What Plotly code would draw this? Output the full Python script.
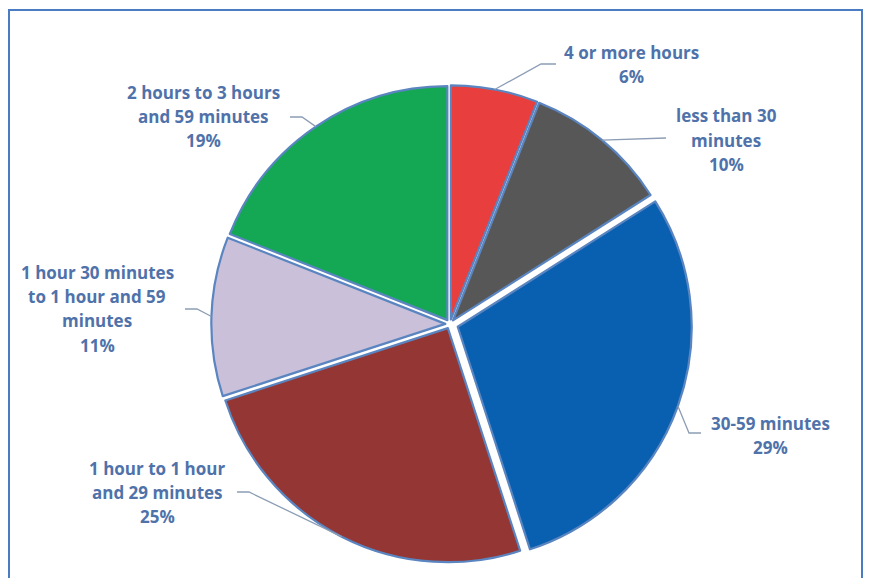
import math
import plotly.graph_objects as go

W, H = 882, 578
OFF = 8  # page body margin offset

# ---- data ----
categories = [
    "4 or more hours",
    "less than 30 minutes",
    "30-59 minutes",
    "1 hour to 1 hour and 29 minutes",
    "1 hour 30 minutes to 1 hour and 59 minutes",
    "2 hours to 3 hours and 59 minutes",
]
values = [6, 10, 29, 25, 11, 19]
label_lines = [
    ["4 or more hours"],
    ["less than 30", "minutes"],
    ["30-59 minutes"],
    ["1 hour to 1 hour", "and 29 minutes"],
    ["1 hour 30 minutes", "to 1 hour and 59", "minutes"],
    ["2 hours to 3 hours", "and 59 minutes"],
]
colors = ["#e83e3e", "#575757", "#0a60b0", "#943634", "#cac0da", "#14a854"]
pulls = [0.02, 0.02, 0.035, 0.02, 0.02, 0.02]

# ---- layout (pixels, page coordinates) ----
cx, cy, r = 450, 324, 234
text_color = "#4f72aa"
line_color = "#8c9db5"

label_pos = [(631, 52), (726, 116), (770, 423), (157, 468), (97, 272), (203, 92)]
leader_tail = [
    [(556, 64), (541, 64)],
    [(666, 138)],
    [(701, 433), (689, 433)],
    [(237, 492), (249, 492)],
    [(185, 309), (197, 309)],
    [(290, 117), (302, 117)],
]
line_gap = 24.4


def px(x):
    return (x - OFF) / W


def py(y):
    return 1 - (y - OFF) / H


maxpull = max(pulls)
half = r * (1 + maxpull)
fig = go.Figure()
fig.add_trace(go.Pie(
    labels=categories,
    values=values,
    sort=False,
    direction="clockwise",
    rotation=0,
    pull=pulls,
    marker=dict(colors=colors, line=dict(color="#5a85c0", width=2.2)),
    textinfo="none",
    hoverinfo="label+percent",
    showlegend=False,
    domain=dict(x=[px(cx - half), px(cx + half)], y=[py(cy + half), py(cy - half)]),
))

total = sum(values)
shapes = []
annotations = []
cum = 0
for i, v in enumerate(values):
    mid = (cum + v / 2) / total
    cum += v
    th = 2 * math.pi * mid
    R = r * (1 + pulls[i])
    ex, ey = cx + R * math.sin(th), cy - R * math.cos(th)
    pts = leader_tail[i] + [(ex, ey)]
    path = "M " + " L ".join(f"{px(a):.5f},{py(b):.5f}" for a, b in pts)
    shapes.append(dict(type="path", xref="paper", yref="paper", path=path,
                       line=dict(color=line_color, width=1.3)))
    lines = label_lines[i] + [f"{round(100 * v / total)}%"]
    lx, ly = label_pos[i]
    for k, t in enumerate(lines):
        annotations.append(dict(
            x=px(lx), y=py(ly + k * line_gap), xref="paper", yref="paper",
            text=t, showarrow=False, xanchor="center", yanchor="middle",
            font=dict(family="Open Sans", size=17, color=text_color, weight="bold"),
        ))

# frame
shapes.append(dict(type="rect", xref="paper", yref="paper",
                   x0=px(9), x1=px(862), y0=py(600), y1=py(10),
                   line=dict(color="#4a7cc4", width=2), layer="below"))

fig.update_layout(
    width=W, height=H,
    margin=dict(l=0, r=0, t=0, b=0),
    paper_bgcolor="white",
    plot_bgcolor="white",
    shapes=shapes,
    annotations=annotations,
)
fig.write_html("out.html")
